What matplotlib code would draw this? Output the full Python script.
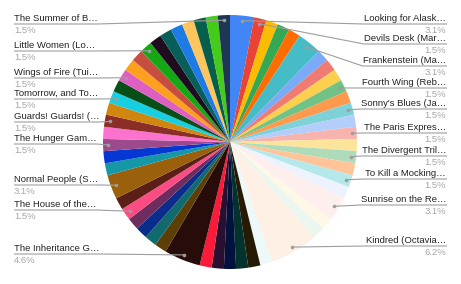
import numpy as np
import matplotlib
matplotlib.use("Agg")
import matplotlib.pyplot as plt

plt.rcParams["font.family"] = ["Liberation Sans", "DejaVu Sans"]

# ── data: one entry per slice, clockwise from 12 o'clock ──────────────────
# None = slice without a visible label
labels = [
    "Looking for Alask…", "Devils Desk (Mar…", None, None, None,
    "Frankenstein (Ma…", None, None, None, "Fourth Wing (Reb…", None,
    "Sonny's Blues (Ja…", None, "The Paris Expres…", None,
    "The Divergent Tril…", None, "To Kill a Mocking…", None,
    "Sunrise on the Re…", None, None, "Kindred (Octavia…", None,
    None, None, None, None, None,
    "The Inheritance G…", None, None, None, None,
    "The House of the…", None, "Normal People (S…", None, None,
    "The Hunger Gam…", None, "Guards! Guards! (…", None,
    "Tomorrow, and To…", None, "Wings of Fire (Tui…", None, None,
    "Little Women (Lo…", None, None, None, None, None, None,
    "The Summer of B…",
]
counts = [
    2, 1, 1, 1, 1,
    2, 1, 1, 1, 1, 1,
    1, 1, 1, 1,
    1, 1, 1, 1,
    2, 1, 1, 4, 1,
    1, 1, 1, 1, 1,
    3, 1, 1, 1, 1,
    1, 1, 2, 1, 1,
    1, 1, 1, 1,
    1, 1, 1, 1, 1,
    1, 1, 1, 1, 1, 1, 1,
    1,
]
colors = [
    "#4285F4", "#EA4335", "#FBBC04", "#34A853", "#FF6D01",
    "#46BDC6", "#7BAAF7", "#F07B72", "#FCD04F", "#71C287", "#FF994D",
    "#7ED1D7", "#B3CEFB", "#F7B4AE", "#FDE49B",
    "#AEDCBA", "#FFC599", "#B5E8EB", "#ECF3FE",
    "#FEEFEE", "#FFF8E6", "#EBF6EE", "#FFF0E6", "#EDF9F9",
    "#261a04", "#04332d", "#03113f", "#2a1030", "#fb1a3a",
    "#280c09", "#5e3e07", "#116b6e", "#0a2d8c", "#6e2d5e",
    "#fd4c84", "#5b1f18", "#9a600b", "#1598a6", "#0537d2",
    "#9b4a8b", "#fb73cf", "#8c2e28", "#d1860f",
    "#17cfe0", "#084e17", "#de5fc1", "#fd9f1f", "#c74d3f",
    "#14a815", "#200c1f", "#075f59", "#1e7be6", "#fdc55d", "#065f4b", "#45cc1b",
    "#1f3654",
]

# ── layout (pixel coords, y measured from the top) ────────────────────────
W, H = 461, 284
CX, CY, R = 230, 142, 127
# leader line height for each labelled slice, in slice order
label_rows = [24, 44, 66, 88, 109, 133, 156, 179, 205, 246,
              254, 210, 185, 144, 122, 99, 78, 51, 24]
LEFT_X, RIGHT_X = 14, 446
LINE_C = "#9e9e9e"
NAME_C = "#222222"
PCT_C = "#a6a6a6"
FS = 6.8

fig = plt.figure(figsize=(W / 100, H / 100), dpi=100)
ax = fig.add_axes([0, 0, 1, 1])

wedges, _ = ax.pie(counts, colors=colors, startangle=90, counterclock=False,
                   center=(CX, H - CY), radius=R,
                   wedgeprops=dict(linewidth=0, antialiased=True))
ax.set_xlim(0, W)
ax.set_ylim(0, H)
ax.set_aspect("auto")
ax.axis("off")

total = sum(counts)
renderer = fig.canvas.get_renderer()
row_iter = iter(label_rows)
for w, lab, n in zip(wedges, labels, counts):
    if lab is None:
        continue
    row = H - next(row_iter)
    mid = np.deg2rad((w.theta1 + w.theta2) / 2)
    dx = CX + 0.96 * R * np.cos(mid)
    dy = (H - CY) + 0.96 * R * np.sin(mid)
    pct = f"{n / total * 100:.1f}%"
    right = np.cos(mid) > 0
    tx = RIGHT_X if right else LEFT_X
    ha = "right" if right else "left"
    t = ax.text(tx, row + 5.5, lab, ha=ha, va="center", fontsize=FS, color=NAME_C)
    ax.text(tx, row - 6.3, pct, ha=ha, va="center", fontsize=FS, color=PCT_C)
    bb = t.get_window_extent(renderer).transformed(ax.transData.inverted())
    if right:
        xs = [dx, bb.x0, RIGHT_X + 1]
    else:
        xs = [LEFT_X, bb.x1, dx]
    ys = [dy, row, row] if right else [row, row, dy]
    ax.plot(xs, ys, color=LINE_C, lw=0.8, solid_capstyle="butt")
    ax.plot([dx], [dy], "o", ms=2.6, color=LINE_C, mec="none")

fig.savefig("out.png", dpi=100)
